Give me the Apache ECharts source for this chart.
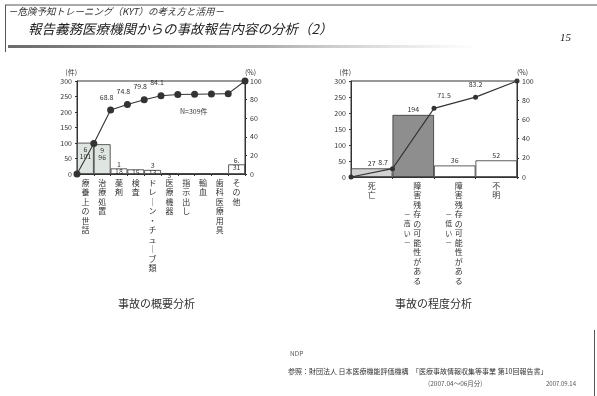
<!DOCTYPE html>
<html>
<head>
<meta charset="utf-8">
<script src="https://cdn.jsdelivr.net/npm/echarts@6/dist/echarts.min.js"></script>
<style>
  html, body { margin: 0; padding: 0; background: #fff; }
  #chart { width: 597px; height: 396px; }
</style>
</head>
<body>
<div id="chart"></div>
<script>
// 事故の概要分析 (件数と累積比率)
const overviewCategories = ['療養上の世話', '治療処置', '薬剤', '検査', 'ドレーン・チューブ類', '医療機器', '指示出し', '輸血', '歯科医療用具', 'その他'];
const overviewCounts = [101, 96, 18, 15, 13, 3, 1, 1, 1, 31];
const overviewTopNotes = ['6', '9', '1', '', '3', '', '', '', '', '6.'];
const overviewCumPct = [0, 32.7, 68.8, 74.8, 79.8, 84.1, 85.5, 85.8, 86.1, 86.4, 100];
const overviewPctShown = [2, 3, 4, 5];

// 事故の程度分析 (件数と累積比率)
const severityCategories = ['死亡', '障害残存の可能性がある（高い）', '障害残存の可能性がある（低い）', '不明'];
const severityCounts = [27, 194, 36, 52];
const severityCumPct = [0, 8.7, 71.5, 83.2, 100];
const severityPctShown = [1, 2, 3];

const countTicks = { min: 0, max: 300, interval: 50 };
const pctTicks = { min: 0, max: 100, interval: 20 };

const FONT = '"Noto Sans CJK JP", "Noto Sans", sans-serif';
const INK = '#333';

const chart = echarts.init(document.getElementById('chart'), null, { renderer: 'canvas' });

// 縦書きラベル: 1 文字ずつ改行し、長音は縦棒にする
function verticalLabel(name) {
  const m = name.match(/^(.*)（(.*)）$/);
  const main = (m ? m[1] : name).replace(/ー/g, '｜').split('');
  const sub = m ? ['－'].concat(m[2].split(''), ['－']) : [];
  const subStart = 3;
  return main.map((c, i) => {
    const s = sub[i - subStart];
    if (!m) return '{m|' + c + '}';
    return '{s|' + (s || '　') + '}{m|' + c + '}{e|　}';
  }).join('\n');
}
const verticalRich = {
  m: { fontSize: 8, lineHeight: 9.5, width: 10, align: 'center', color: INK, fontFamily: FONT },
  s: { fontSize: 7, lineHeight: 9.5, width: 10, align: 'center', color: INK, fontFamily: FONT },
  e: { fontSize: 7, lineHeight: 9.5, width: 2, align: 'center', color: INK, fontFamily: FONT }
};

function axisPair(categories, nPoints) {
  return [
    {
      type: 'category', data: categories, boundaryGap: true,
      axisLine: { lineStyle: { color: INK, width: 1 } },
      axisTick: { show: true, length: 2, lineStyle: { color: INK } },
      axisLabel: { interval: 0, margin: 4, verticalAlign: 'top', formatter: verticalLabel, rich: verticalRich }
    },
    {
      type: 'category', data: Array.from({ length: nPoints }, (_, i) => String(i)),
      boundaryGap: false, show: false, position: 'bottom'
    }
  ];
}

function yPair() {
  const common = {
    axisLine: { show: true, lineStyle: { color: INK, width: 1 } },
    axisTick: { show: true, length: 2, lineStyle: { color: INK } },
    splitLine: { show: false },
    axisLabel: { fontSize: 7, color: INK, fontFamily: FONT, margin: 5 }
  };
  return [
    Object.assign({ type: 'value', position: 'left', name: '(件)', nameGap: 5 },
      countTicks, common, { nameTextStyle: { fontSize: 7, color: INK, fontFamily: FONT, align: 'right' } }),
    Object.assign({ type: 'value', position: 'right', name: '(%)', nameGap: 5 },
      pctTicks, common, { nameTextStyle: { fontSize: 7, color: INK, fontFamily: FONT, align: 'left' } })
  ];
}

const lx = axisPair(overviewCategories, overviewCumPct.length);
const rx = axisPair(severityCategories, severityCumPct.length);
const ly = yPair();
const ry = yPair();

const overviewFills = ['#dfe6e1', '#dfe6e1', '#fff', '#fff', '#fff', '#fff', '#fff', '#fff', '#fff', '#fff'];
const severityFills = ['#d2d2d2', '#8e8e8e', '#fff', '#fff'];

const overviewBarData = overviewCounts.map((v, i) => ({
  value: v,
  itemStyle: { color: overviewFills[i] },
  label: i < 2
    ? { show: true, position: 'insideTop', distance: 3, formatter: '{t|' + overviewTopNotes[i] + '}\n{v|' + v + '}' }
    : { show: v > 1, position: 'top', distance: -6, formatter: '{t|' + overviewTopNotes[i] + '}\n{v|' + v + '}' }
}));

const overviewLineData = overviewCumPct.map((v, i) => ({
  value: v,
  label: { show: overviewPctShown.indexOf(i) >= 0, position: 'top', offset: [-4, -1] }
}));

const severityBarData = severityCounts.map((v, i) => ({
  value: v, itemStyle: { color: severityFills[i] }
}));

const severityLabelPos = {
  1: { position: 'left', distance: 2, offset: [0, -6] },
  2: { position: 'top', offset: [10, -2] },
  3: { position: 'top', offset: [0, -2] }
};
const severityLineData = severityCumPct.map((v, i) => ({
  value: v,
  label: Object.assign({ show: severityPctShown.indexOf(i) >= 0 }, severityLabelPos[i] || {})
}));

const labelText = { fontSize: 7, color: INK, fontFamily: FONT };
const chartTitleStyle = { fontSize: 11, fontWeight: 'normal', color: INK, fontFamily: FONT };

const option = {
  backgroundColor: '#fff',
  animation: false,
  textStyle: { fontFamily: FONT },
  title: [
    { text: '事故の概要分析', left: 113, top: 293, textStyle: chartTitleStyle },
    { text: '事故の程度分析', left: 390, top: 293, textStyle: chartTitleStyle }
  ],
  grid: [
    { left: 77, right: 352, top: 81, height: 93, show: true, borderColor: INK, borderWidth: 1, backgroundColor: 'transparent' },
    { left: 351, right: 80, top: 81, height: 96, show: true, borderColor: INK, borderWidth: 1, backgroundColor: 'transparent' }
  ],
  xAxis: [lx[0], lx[1], rx[0], rx[1]].map((a, i) => Object.assign(a, { gridIndex: i < 2 ? 0 : 1 })),
  yAxis: [ly[0], ly[1], ry[0], ry[1]].map((a, i) => Object.assign(a, { gridIndex: i < 2 ? 0 : 1 })),
  series: [
    {
      type: 'bar', xAxisIndex: 0, yAxisIndex: 0, data: overviewBarData,
      barCategoryGap: '0%', itemStyle: { borderColor: INK, borderWidth: 0.8 },
      label: { rich: { t: labelText, v: labelText } }
    },
    {
      type: 'line', xAxisIndex: 1, yAxisIndex: 1, data: overviewLineData,
      symbol: 'circle', symbolSize: 7, lineStyle: { color: INK, width: 1.1 }, itemStyle: { color: INK },
      label: labelText
    },
    {
      type: 'bar', xAxisIndex: 2, yAxisIndex: 2, data: severityBarData,
      barCategoryGap: '0%', itemStyle: { borderColor: INK, borderWidth: 0.8 },
      label: Object.assign({ show: true, position: 'top', distance: 2 }, labelText)
    },
    {
      type: 'line', xAxisIndex: 3, yAxisIndex: 3, data: severityLineData,
      symbol: 'circle', symbolSize: 5, lineStyle: { color: INK, width: 1.1 }, itemStyle: { color: INK },
      label: labelText
    }
  ],
  graphic: [
    // ページ枠と見出し
    { type: 'line', shape: { x1: 5, y1: 5, x2: 597, y2: 5 }, style: { stroke: '#555', lineWidth: 1 } },
    { type: 'line', shape: { x1: 5.5, y1: 5, x2: 5.5, y2: 52 }, style: { stroke: '#555', lineWidth: 1 } },
    { type: 'line', shape: { x1: 594.5, y1: 330, x2: 594.5, y2: 396 }, style: { stroke: '#555', lineWidth: 1 } },
    { type: 'text', left: 8, top: 7, style: { text: '－危険予知トレーニング（KYT）の考え方と活用－', fontSize: 9.5, fontStyle: 'italic', fill: INK, fontFamily: FONT } },
    { type: 'text', left: 28, top: 22, style: { text: '報告義務医療機関からの事故報告内容の分析（2）', fontSize: 13.5, fontStyle: 'italic', fill: '#222', fontFamily: FONT } },
    { type: 'text', left: 560, top: 33, style: { text: '15', fontSize: 11, fontStyle: 'italic', fill: '#222', fontFamily: '"Liberation Serif", serif' } },
    { type: 'rect', shape: { x: 8, y: 45, width: 470, height: 3 },
      style: { fill: new echarts.graphic.LinearGradient(0, 0, 1, 0, [
        { offset: 0, color: 'rgba(90,90,90,0.9)' }, { offset: 0.55, color: 'rgba(120,120,120,0.6)' }, { offset: 1, color: 'rgba(160,160,160,0)' }]) } },
    // 注記
    { type: 'text', left: 180, top: 108, style: { text: 'N=309件', fontSize: 7, fill: INK, fontFamily: FONT } },
    { type: 'text', left: 290, top: 350, style: { text: 'NDP', fontSize: 6.5, fill: '#555', fontFamily: FONT } },
    { type: 'text', left: 288, top: 368, style: { text: '参照：財団法人 日本医療機能評価機構　「医療事故情報収集等事業 第10回報告書」', fontSize: 7, fill: INK, fontFamily: FONT } },
    { type: 'text', left: 428, top: 380, style: { text: '(2007.04～06月分)', fontSize: 6.5, fill: '#555', fontFamily: FONT } },
    { type: 'text', left: 546, top: 381, style: { text: '2007.09.14', fontSize: 6, fill: '#555', fontFamily: FONT } }
  ]
};

chart.setOption(option);
</script>
</body>
</html>
